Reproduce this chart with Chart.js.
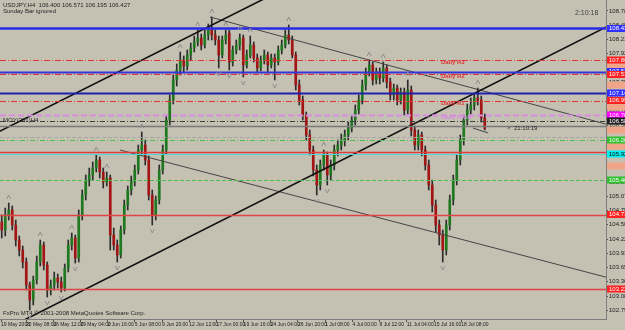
<!doctype html>
<html>
<head>
    <title>USDJPY,H4</title>
    <script src="https://cdn.jsdelivr.net/npm/chart.js"></script>
    <style>
        html, body { margin: 0; padding: 0; background: #c4c1b3; }
        #quadro { width: 625px; height: 330px; position: relative; }
    </style>
</head>
<body>
<div id="quadro"><canvas id="grafico"></canvas></div>
<script>
// cabecalho
const titulo = 'USDJPY,H4  106.400 106.571 106.195 106.427';
const subtitulo = 'Sunday Bar ignored';
const rodape = 'FxPro MT4 \u00a9 2001-2008 MetaQuotes Software Corp.';

// velas (uma por posicao no eixo x)
const opens = [104.56,104.40,104.70,104.80,104.50,104.20,104.00,103.76,103.30,103.00,
    103.40,103.76,104.10,103.70,103.20,103.30,103.44,103.36,103.24,103.64,
    104.10,104.24,103.84,104.70,105.10,105.40,105.50,105.64,105.80,105.56,
    105.36,105.44,104.30,104.10,103.90,104.40,104.90,105.20,105.36,105.60,
    106.00,106.10,105.80,105.10,104.70,105.00,105.60,106.00,106.60,107.00,
    107.40,107.60,107.80,107.68,107.90,108.04,108.16,108.24,108.10,108.30,
    108.40,108.30,108.20,107.90,108.20,108.34,107.76,108.00,108.10,108.24,
    107.70,107.90,108.10,107.84,107.64,107.80,107.90,107.70,107.84,107.76,
    108.00,108.10,108.30,108.20,107.90,107.30,107.00,106.70,106.30,106.00,
    105.60,105.30,105.70,105.90,105.50,105.70,106.00,106.10,106.20,106.30,
    106.44,106.60,106.80,107.00,107.30,107.56,107.70,107.40,107.56,107.44,
    107.64,107.36,107.10,107.24,107.00,107.16,106.80,107.20,106.40,106.10,
    106.30,106.00,105.70,105.30,104.90,104.50,104.30,104.00,104.50,105.00,
    105.40,105.80,106.20,106.60,106.80,106.90,107.04,107.00,106.64];
const highs = [104.70,104.84,104.94,104.88,104.60,104.28,104.08,103.84,103.36,103.48,
    103.88,104.20,104.16,103.76,103.40,103.56,103.52,103.46,103.72,104.20,
    104.34,104.30,104.80,105.20,105.50,105.64,105.76,105.90,105.86,105.64,
    105.56,105.50,104.44,104.20,104.48,105.00,105.28,105.48,105.70,106.10,
    106.36,106.20,105.88,105.20,105.08,105.70,106.10,106.70,107.10,107.50,
    107.72,107.96,107.88,108.00,108.14,108.28,108.40,108.32,108.40,108.52,
    108.66,108.40,108.28,108.28,108.40,108.40,108.08,108.20,108.32,108.30,
    108.00,108.28,108.16,107.92,107.88,108.00,107.96,107.92,107.92,108.08,
    108.20,108.40,108.50,108.28,107.96,107.40,107.08,106.76,106.40,106.08,
    105.70,105.80,106.00,105.96,105.80,106.10,106.20,106.32,106.40,106.56,
    106.70,106.90,107.10,107.40,107.64,107.80,107.76,107.64,107.64,107.76,
    107.70,107.44,107.32,107.30,107.24,107.24,107.40,107.28,106.48,106.40,
    106.36,106.08,105.80,105.40,105.00,104.60,104.40,104.60,105.10,105.50,
    105.90,106.30,106.70,106.92,107.04,107.12,107.24,107.08,106.72];
const lows = [104.24,104.28,104.60,104.40,104.08,103.88,103.64,103.20,102.80,102.90,
    103.32,103.68,103.60,103.06,103.10,103.20,103.24,103.16,103.18,103.56,
    104.00,103.74,103.76,104.60,105.00,105.28,105.40,105.56,105.44,105.24,
    105.28,104.00,104.00,103.76,103.84,104.32,104.80,105.10,105.28,105.52,
    105.90,105.70,105.00,104.50,104.60,104.92,105.52,105.92,106.50,106.92,
    107.28,107.50,107.56,107.60,107.80,107.96,108.08,108.00,108.04,108.20,
    108.20,108.10,107.64,107.84,108.12,107.60,107.68,107.92,108.00,107.46,
    107.64,107.84,107.76,107.56,107.58,107.72,107.54,107.64,107.40,107.70,
    107.92,108.04,108.12,107.84,107.20,106.90,106.60,106.20,105.90,105.48,
    105.10,105.20,105.60,105.30,105.40,105.60,105.88,106.00,106.08,106.20,
    106.36,106.50,106.72,106.92,107.20,107.48,107.30,107.32,107.32,107.36,
    107.24,107.00,107.00,106.90,106.92,106.70,106.72,106.28,106.00,106.00,
    105.88,105.60,105.20,104.76,104.36,104.10,103.76,103.90,104.40,104.90,
    105.30,105.70,106.10,106.50,106.72,106.80,106.90,106.56,106.40];
const closes = [104.40,104.70,104.80,104.50,104.20,104.00,103.76,103.30,103.00,103.40,
    103.76,104.10,103.70,103.20,103.30,103.44,103.36,103.24,103.64,104.10,
    104.24,103.84,104.70,105.10,105.40,105.50,105.64,105.80,105.56,105.36,
    105.44,104.30,104.10,103.90,104.40,104.90,105.20,105.36,105.60,106.00,
    106.10,105.80,105.10,104.70,105.00,105.60,106.00,106.60,107.00,107.40,
    107.60,107.80,107.68,107.90,108.04,108.16,108.24,108.10,108.30,108.40,
    108.30,108.20,107.90,108.20,108.30,107.76,108.00,108.10,108.24,107.70,
    107.90,108.10,107.84,107.64,107.80,107.90,107.70,107.84,107.76,108.00,
    108.10,108.30,108.20,107.90,107.30,107.00,106.70,106.30,106.00,105.60,
    105.30,105.70,105.90,105.50,105.70,106.00,106.10,106.20,106.30,106.44,
    106.60,106.80,107.00,107.30,107.56,107.70,107.40,107.56,107.44,107.64,
    107.36,107.10,107.24,107.00,107.16,106.80,107.20,106.40,106.10,106.30,
    106.00,105.70,105.30,104.90,104.50,104.30,104.00,104.50,105.00,105.40,
    105.80,106.20,106.60,106.80,106.90,107.04,107.00,106.64,106.43];

// fractais (indices das velas)
const fractalUp = [2, 11, 20, 27, 30, 40, 51, 56, 60, 64, 68, 71, 82, 92, 105, 109, 116, 136];
const fractalDown = [8, 13, 17, 21, 33, 43, 62, 65, 69, 78, 90, 93, 126];

// eixo do tempo
const xTickPos = [-0.2, 6.93, 14.7, 22.47, 30.24, 38.01, 45.79, 53.56, 61.33, 69.1,
    76.87, 84.64, 92.41, 100.19, 107.96, 115.73, 123.5, 131.27];
const xTickLabels = ['19 May 2008', '22 May 08:00', '26 May 12:00', '29 May 04:00', '2 Jun 16:00',
    '5 Jun 08:00', '9 Jun 20:00', '12 Jun 12:00', '17 Jun 00:00', '19 Jun 16:00', '24 Jun 04:00',
    '26 Jun 20:00', '1 Jul 08:00', '4 Jul 00:00', '8 Jul 12:00', '11 Jul 04:00', '15 Jul 16:00',
    '18 Jul 08:00'];

// eixo de precos
const yTickValues = [108.780, 108.495, 108.210, 107.925, 107.640, 107.355, 107.070, 106.785,
    106.500, 106.215, 105.930, 105.645, 105.360, 105.075, 104.790, 104.505, 104.220, 103.935,
    103.650, 103.365, 103.080, 102.795];

// linhas horizontais (pivots, niveis)
const levelPrices = [108.43, 107.80, 107.57, 107.51, 107.14, 106.99, 106.70, 106.58,
    106.48, 106.26, 106.20, 105.95, 105.92, 105.40, 104.71, 103.22];
const levelNames = ['', 'Daily R3', '', 'Daily R2', '', 'Daily R1', 'Daily Pivot', '',
    '', '', '', '', '', '', '', ''];
const extraAxisMarks = [107.68, 107.30, 106.86, 106.40, 106.08, 105.68];

// linhas de tendencia [x1, preco1, x2, preco2]
const trendLines = [
    [5, 102.55, 173, 108.47],
    [-1, 106.36, 80, 109.20],
    [59.5, 108.66, 173, 106.51],
    [33.8, 106.00, 173, 103.45],
    [134.6, 106.44, 139, 106.34]
];

const levelStyles = [
    { color: '#2a2ae6', width: 2.5, dash: [], box: '#3030ff' },
    { color: '#e03434', width: 1, dash: [6, 2, 1, 2], box: '#ff2020' },
    { color: '#3434d8', width: 2, dash: [], box: '#3030ff' },
    { color: '#e03434', width: 1, dash: [6, 2, 1, 2], box: '#ff2020' },
    { color: '#2020b0', width: 2, dash: [], box: '#3030ff' },
    { color: '#e03434', width: 1, dash: [6, 2, 1, 2], box: '#ff2020' },
    { color: '#d88ee0', width: 2, dash: [6, 3], box: '#ff00ff' },
    { color: '#404040', width: 1, dash: [5, 2, 1, 2], box: '#202020' },
    { color: '#7a7a7a', width: 1.5, dash: [], box: null },
    { color: '#a8a8a8', width: 1, dash: [4, 2], box: null },
    { color: '#4cc04c', width: 1, dash: [5, 2, 1, 2], box: '#30c030' },
    { color: '#e03c3c', width: 1.5, dash: [], box: null },
    { color: '#4cd8d8', width: 1, dash: [], box: '#00f0f0' },
    { color: '#4cc04c', width: 1, dash: [4, 2], box: '#30c030' },
    { color: '#e04444', width: 1.5, dash: [], box: '#ff2020' },
    { color: '#e04444', width: 1.5, dash: [], box: '#ff2020' }
];
const trendStyles = [
    { color: '#101010', width: 1.6 },
    { color: '#101010', width: 1.6 },
    { color: '#454545', width: 1 },
    { color: '#454545', width: 1 },
    { color: '#454545', width: 1 }
];

const fonte = '"Liberation Sans", Arial, sans-serif';

const mt4 = {
    id: 'mt4',
    beforeDraw(chart) {
        const c = chart.ctx;
        c.save();
        c.fillStyle = '#c4c1b3';
        c.fillRect(0, 0, chart.width, chart.height);
        c.restore();
    },
    afterDatasetsDraw(chart) {
        const c = chart.ctx, a = chart.chartArea, x = chart.scales.x, y = chart.scales.y;
        c.save();
        c.beginPath();
        c.rect(a.left, a.top, a.width, a.height);
        c.clip();
        levelPrices.forEach((p, k) => {
            const st = levelStyles[k];
            const py = Math.round(y.getPixelForValue(p)) + 0.5;
            c.strokeStyle = st.color;
            c.lineWidth = st.width;
            c.setLineDash(st.dash);
            c.beginPath();
            c.moveTo(a.left, py);
            c.lineTo(a.right, py);
            c.stroke();
            if (levelNames[k]) {
                c.setLineDash([]);
                c.font = 'bold 6px ' + fonte;
                c.fillStyle = st.color;
                c.textBaseline = 'middle';
                c.textAlign = 'left';
                c.fillText(levelNames[k], x.getPixelForValue(125.5), py + 2);
            }
        });
        c.setLineDash([]);
        // fractais
        c.strokeStyle = '#8e8e8e';
        c.lineWidth = 1;
        fractalUp.forEach(i => {
            const px = x.getPixelForValue(i), py = y.getPixelForValue(highs[i]) - 4;
            c.beginPath();
            c.moveTo(px - 2, py); c.lineTo(px, py - 4); c.lineTo(px + 2, py);
            c.stroke();
        });
        fractalDown.forEach(i => {
            const px = x.getPixelForValue(i), py = y.getPixelForValue(lows[i]) + 4;
            c.beginPath();
            c.moveTo(px - 2, py); c.lineTo(px, py + 4); c.lineTo(px + 2, py);
            c.stroke();
        });
        // textos no grafico
        c.fillStyle = '#252525';
        c.font = '6px ' + fonte;
        c.textAlign = 'left';
        c.textBaseline = 'top';
        c.fillText(titulo, a.left + 3, a.top + 2);
        c.fillText(subtitulo, a.left + 3, a.top + 8);
        c.fillText('MOY(201)H4', a.left + 3, y.getPixelForValue(106.58) - 4);
        c.fillText(rodape, a.left + 3, a.bottom - 9);
        c.textBaseline = 'middle';
        c.fillText('<  21:10:19', x.getPixelForValue(144.4), y.getPixelForValue(106.44));
        c.font = '7px ' + fonte;
        c.fillStyle = '#404040';
        c.fillText('2:10:18', a.right - 31, a.top + 13);
        c.restore();
    },
    afterDraw(chart) {
        const c = chart.ctx, a = chart.chartArea, y = chart.scales.y;
        c.save();
        c.font = '6px ' + fonte;
        c.textBaseline = 'middle';
        c.textAlign = 'left';
        extraAxisMarks.forEach(p => {
            const py = y.getPixelForValue(p);
            c.fillStyle = '#f0a488';
            c.fillRect(a.right + 1, py - 3.5, chart.width - a.right, 7);
        });
        levelPrices.forEach((p, k) => {
            const st = levelStyles[k];
            if (!st.box) return;
            const py = y.getPixelForValue(p);
            c.fillStyle = st.box;
            c.fillRect(a.right + 1, py - 3.5, chart.width - a.right, 7);
            c.fillStyle = st.box === '#00f0f0' ? '#000' : '#fff';
            c.fillText(p.toFixed(3), a.right + 3, py);
        });
        c.restore();
    }
};

const wickData = opens.map((o, i) => ({ x: i, y: [lows[i], highs[i]] }));
const bodyData = opens.map((o, i) => ({ x: i, y: [o, closes[i]] }));
const bodyColors = opens.map((o, i) => closes[i] >= o ? '#1f7a1f' : '#a31414');

const datasets = trendLines.map((t, k) => ({
    type: 'line',
    data: [{ x: t[0], y: t[1] }, { x: t[2], y: t[3] }],
    borderColor: trendStyles[k].color,
    borderWidth: trendStyles[k].width,
    pointRadius: 0,
    order: 0
}));
datasets.push({
    type: 'bar', data: bodyData, backgroundColor: bodyColors,
    barThickness: 2, minBarLength: 1, grouped: false, order: 1
});
datasets.push({
    type: 'bar', data: wickData, backgroundColor: '#2c2c2c',
    barThickness: 1, grouped: false, order: 2
});

new Chart(document.getElementById('grafico').getContext('2d'), {
    data: { datasets: datasets },
    plugins: [mt4],
    options: {
        responsive: true,
        maintainAspectRatio: false,
        animation: false,
        layout: { padding: 0 },
        plugins: { legend: { display: false }, tooltip: { enabled: false } },
        scales: {
            x: {
                type: 'linear',
                offset: false,
                min: -0.5,
                max: 172.64,
                afterBuildTicks: s => { s.ticks = xTickPos.map(v => ({ value: v })); },
                afterFit: s => { s.height = 11; s.paddingLeft = 0; s.paddingRight = 0; },
                grid: { offset: false, drawOnChartArea: false, tickLength: 3, tickColor: '#505050' },
                border: { color: '#7c7c7c' },
                ticks: {
                    autoSkip: false, maxRotation: 0, align: 'start', padding: 0,
                    color: '#202020', font: { size: 5, family: fonte },
                    callback: (v, i) => xTickLabels[i]
                }
            },
            y: {
                position: 'right',
                min: 102.62,
                max: 109.0,
                afterBuildTicks: s => { s.ticks = yTickValues.map(v => ({ value: v })); },
                afterFit: s => { s.width = 19; s.paddingTop = 0; s.paddingBottom = 0; },
                grid: { drawOnChartArea: false, tickLength: 2, tickColor: '#505050' },
                border: { color: '#7c7c7c' },
                ticks: {
                    autoSkip: false, padding: 1,
                    color: '#202020', font: { size: 6, family: fonte },
                    callback: v => v.toFixed(3)
                }
            }
        }
    }
});
</script>
</body>
</html>
